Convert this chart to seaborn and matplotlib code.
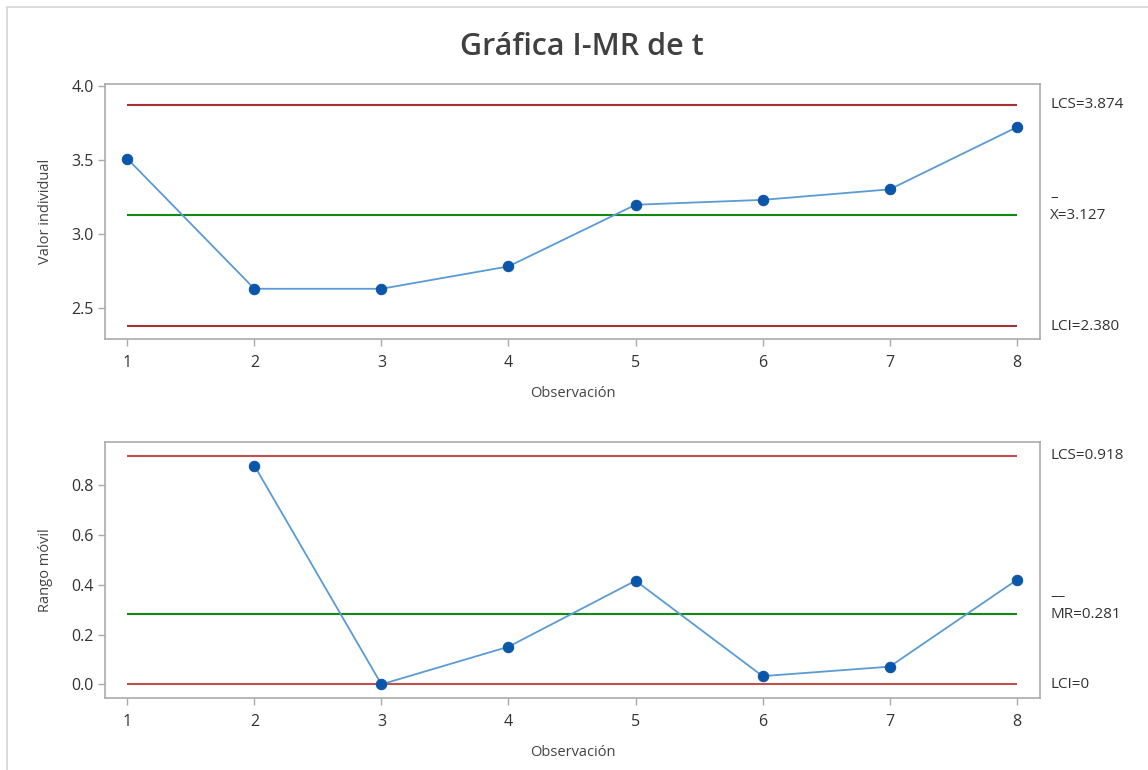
import numpy as np
import pandas as pd
import matplotlib
matplotlib.use("Agg")
import matplotlib.pyplot as plt
import matplotlib.transforms as mtrans
from matplotlib.patches import Rectangle
import seaborn as sns

# ---- data ----
observations = [1, 2, 3, 4, 5, 6, 7, 8]
individual_values = [3.510, 2.632, 2.632, 2.783, 3.199, 3.232, 3.303, 3.722]
moving_ranges = [0.878, 0.000, 0.151, 0.416, 0.033, 0.071, 0.419]
mr_observations = [2, 3, 4, 5, 6, 7, 8]

i_lcs, i_center, i_lci = 3.874, 3.127, 2.380
mr_lcs, mr_center, mr_lci = 0.918, 0.281, 0.0

i_labels = ["LCS=3.874", "X=3.127", "LCI=2.380"]
mr_labels = ["LCS=0.918", "MR=0.281", "LCI=0"]
x_ticks = [1, 2, 3, 4, 5, 6, 7, 8]
i_yticks = [2.5, 3.0, 3.5, 4.0]
mr_yticks = [0.0, 0.2, 0.4, 0.6, 0.8]

sns.set_style("white")
plt.rcParams['font.family'] = ['Open Sans', 'DejaVu Sans']

line_color = "#5b9bd5"
marker_color = "#0b56a8"
red_top = "#a83232"
red_bot = "#c0504d"
green = "#128a12"
spine_color = "#ababab"
text_color = "#333333"

fig = plt.figure(figsize=(11.48, 7.70), dpi=100)
fig.patch.set_facecolor("white")
fig.patches.append(Rectangle((7/1148, -0.1), 1.2, 1 - 7/770 + 0.1, transform=fig.transFigure,
                             fill=False, edgecolor="#d4d4d4", linewidth=1.2, zorder=0))

ax1 = fig.add_axes([105/1148, 1 - 339.3/770, 935/1148, (339.3 - 84)/770])
ax2 = fig.add_axes([105/1148, 1 - 698.3/770, 935/1148, (698.3 - 442.3)/770])

df_i = pd.DataFrame({"Observación": observations, "Valor": individual_values})
df_mr = pd.DataFrame({"Observación": mr_observations, "MR": moving_ranges})

def style_axis(ax):
    for s in ax.spines.values():
        s.set_color(spine_color)
        s.set_linewidth(1.2)
    ax.tick_params(axis='both', which='both', direction='out', length=5, width=1,
                   color=spine_color, labelsize=11.5, labelcolor=text_color, pad=3,
                   bottom=True, left=True, top=False, right=False)
    ax.tick_params(axis='x', pad=6)
    ax.set_xticks(x_ticks)
    ax.set_xlim(0.8245, 8.183)

# Individual chart
ax1.hlines([i_lcs, i_lci], 1, 8, color=red_top, linewidth=1.5, zorder=2)
ax1.hlines([i_center], 1, 8, color=green, linewidth=1.5, zorder=2)
sns.lineplot(data=df_i, x="Observación", y="Valor", ax=ax1, color=line_color, linewidth=1.3,
             marker='o', markersize=7.5, markerfacecolor=marker_color, markeredgecolor=marker_color,
             zorder=3)
style_axis(ax1)
ax1.set_ylim(2.291, 4.014)
ax1.set_yticks(i_yticks)
ax1.set_yticklabels([f"{v:.1f}" for v in i_yticks])
ax1.set_ylabel("Valor individual", fontsize=10.5, color="#444444", labelpad=13)
ax1.set_xlabel("Observación", fontsize=10.5, color="#444444", labelpad=11)

# Moving range chart
ax2.hlines([mr_lcs, mr_lci], 1, 8, color=red_bot, linewidth=1.5, zorder=2)
ax2.hlines([mr_center], 1, 8, color=green, linewidth=1.5, zorder=2)
sns.lineplot(data=df_mr, x="Observación", y="MR", ax=ax2, color=line_color, linewidth=1.3,
             marker='o', markersize=7.5, markerfacecolor=marker_color, markeredgecolor=marker_color,
             zorder=3)
style_axis(ax2)
ax2.set_ylim(-0.056, 0.9715)
ax2.set_yticks(mr_yticks)
ax2.set_yticklabels([f"{v:.1f}" for v in mr_yticks])
ax2.set_ylabel("Rango móvil", fontsize=10.5, color="#444444", labelpad=13)
ax2.set_xlabel("Observación", fontsize=10.5, color="#444444", labelpad=11)

# Right-hand limit labels
def limit_labels(ax, values, labels, bar_text):
    trans = mtrans.blended_transform_factory(ax.transAxes, ax.transData)
    xoff = 1 + 10/935
    for v, lab in zip(values, labels):
        ax.text(xoff, v, lab, transform=trans, ha='left', va='center', fontsize=11,
                color=text_color, clip_on=False)
    ax.annotate(bar_text, xy=(xoff, values[1]), xycoords=trans, xytext=(0, 13),
                textcoords='offset points', ha='left', va='center', fontsize=11,
                color=text_color, annotation_clip=False)

limit_labels(ax1, [i_lcs, i_center, i_lci], i_labels, "–")
limit_labels(ax2, [mr_lcs, mr_center, mr_lci], mr_labels, "––")

fig.text(582/1148, 1 - 47/770, "Gráfica I-MR de t", ha='center', va='center', fontsize=22,
         fontweight='semibold', color="#404040")

fig.savefig("out.png", dpi=100)
